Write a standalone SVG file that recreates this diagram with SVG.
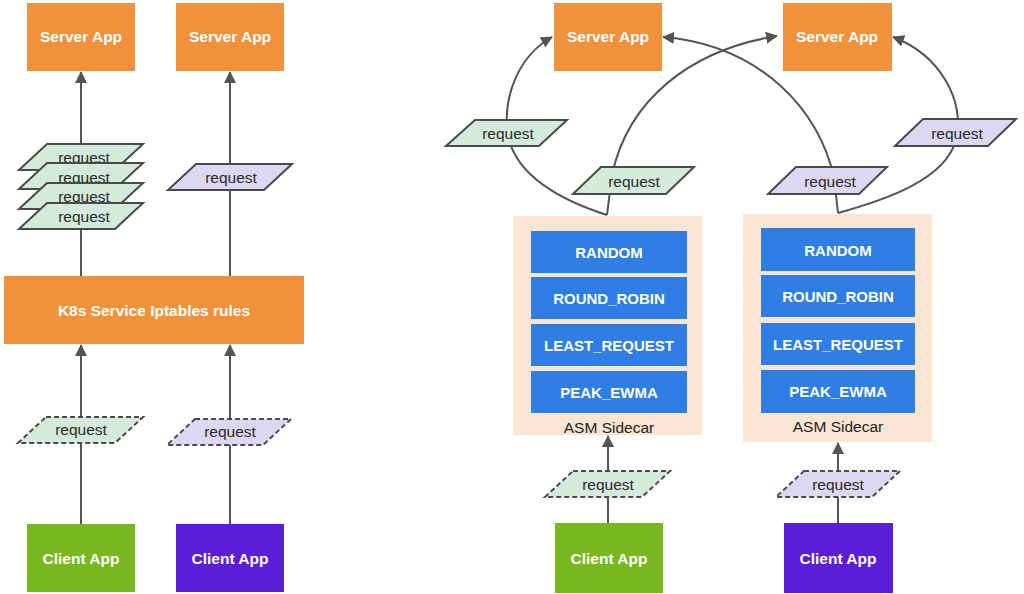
<svg xmlns="http://www.w3.org/2000/svg" width="1024" height="594" viewBox="0 0 1024 594">
<defs>
<style>
.orange{fill:#f0923b}
.cg{fill:#77b81f}
.cp{fill:#5b1ed6}
.blue{fill:#2e7ee4}
.peach{fill:#fbe5d3}
.lbl{font-family:"Liberation Sans",Arial,sans-serif;font-weight:bold;font-size:15.5px;fill:#ffffff;text-anchor:middle;dominant-baseline:central}
.blbl{font-family:"Liberation Sans",Arial,sans-serif;font-weight:bold;font-size:15px;fill:#ffffff;text-anchor:middle;dominant-baseline:central}
.req{font-family:"Liberation Sans",Arial,sans-serif;font-size:15.5px;fill:#2a2a2a;text-anchor:middle;dominant-baseline:central}
.side{font-family:"Liberation Sans",Arial,sans-serif;font-size:15.5px;fill:#222;text-anchor:middle;dominant-baseline:central}
.rg{fill:#d4eadb;stroke:#4a4a4a;stroke-width:2}
.rp{fill:#ddd8f2;stroke:#4a4a4a;stroke-width:2}
.dash{stroke-dasharray:5 3}
.conn{fill:none;stroke:#555;stroke-width:2}
</style>
<marker id="ah" markerUnits="userSpaceOnUse" markerWidth="12" markerHeight="12" refX="11" refY="6" orient="auto">
<path d="M0,0 L12,6 L0,12 Z" fill="#555"/>
</marker>
</defs>
<rect width="1024" height="594" fill="#ffffff"/>

<g id="connectors">
<line class="conn" x1="81" y1="276" x2="81" y2="72" marker-end="url(#ah)"/>
<line class="conn" x1="230" y1="276" x2="230" y2="72" marker-end="url(#ah)"/>
<line class="conn" x1="81" y1="524" x2="81" y2="345" marker-end="url(#ah)"/>
<line class="conn" x1="230" y1="524" x2="230" y2="345" marker-end="url(#ah)"/>
<line class="conn" x1="608" y1="523" x2="608" y2="436" marker-end="url(#ah)"/>
<line class="conn" x1="838" y1="523" x2="838" y2="443" marker-end="url(#ah)"/>
<path class="conn" d="M607,215 C560,200 515,175 508,135 C502,95 520,55 552,37" marker-end="url(#ah)"/>
<path class="conn" d="M607,215 L612,175 C628,100 690,50 777,36" marker-end="url(#ah)"/>
<path class="conn" d="M838,213 L834,178 C820,110 760,45 663,37" marker-end="url(#ah)"/>
<path class="conn" d="M838,213 C885,200 945,180 956,140 C965,100 940,55 893,37" marker-end="url(#ah)"/>
</g>

<g id="server1"><rect class="orange" x="27" y="3" width="108" height="68"/><text class="lbl" x="81" y="36">Server App</text></g>
<g id="server2"><rect class="orange" x="176" y="3" width="108" height="68"/><text class="lbl" x="230" y="36">Server App</text></g>
<g id="server3"><rect class="orange" x="554" y="3" width="108" height="68"/><text class="lbl" x="608" y="36">Server App</text></g>
<g id="server4"><rect class="orange" x="783" y="3" width="109" height="68"/><text class="lbl" x="837" y="36">Server App</text></g>

<g id="k8s"><rect class="orange" x="4" y="276" width="300" height="68"/><text class="lbl" x="154" y="310">K8s Service Iptables rules</text></g>

<g id="client1"><rect class="cg" x="27" y="524" width="108" height="68"/><text class="lbl" x="81" y="558">Client App</text></g>
<g id="client2"><rect class="cp" x="176" y="524" width="108" height="68"/><text class="lbl" x="230" y="558">Client App</text></g>
<g id="client3"><rect class="cg" x="555" y="523" width="108" height="70"/><text class="lbl" x="609" y="558">Client App</text></g>
<g id="client4"><rect class="cp" x="784" y="523" width="109" height="70"/><text class="lbl" x="838" y="558">Client App</text></g>

<g id="stack-requests">
<polygon class="rg" points="47,144 143,144 115,170 19,170"/><text class="req" x="84" y="157">request</text>
<polygon class="rg" points="47,163 143,163 115,189 19,189"/><text class="req" x="84" y="177">request</text>
<polygon class="rg" points="47,183 143,183 115,209 19,209"/><text class="req" x="84" y="196">request</text>
<polygon class="rg" points="47,203 143,203 115,229 19,229"/><text class="req" x="84" y="216">request</text>
</g>
<g id="req-left-purple"><polygon class="rp" points="196,164 292,164 264,190 168,190"/><text class="req" x="231" y="177">request</text></g>
<g id="req-dashed-1"><polygon class="rg dash" points="46,417 143,417 115,443 18,443"/><text class="req" x="81" y="429">request</text></g>
<g id="req-dashed-2"><polygon class="rp dash" points="195,419 291,419 263,445 167,445"/><text class="req" x="230" y="431">request</text></g>
<g id="req-dashed-3"><polygon class="rg dash" points="573,471 670,471 642,497 545,497"/><text class="req" x="608" y="484">request</text></g>
<g id="req-dashed-4"><polygon class="rp dash" points="804,471 900,471 872,497 776,497"/><text class="req" x="838" y="484">request</text></g>

<g id="req-r1"><polygon class="rg" points="475,120 567,120 539,146 446,146"/><text class="req" x="508" y="133">request</text></g>
<g id="req-r2"><polygon class="rg" points="601,167 694,167 666,194 573,194"/><text class="req" x="634" y="181">request</text></g>
<g id="req-r3"><polygon class="rp" points="796,167 887,167 859,194 768,194"/><text class="req" x="830" y="181">request</text></g>
<g id="req-r4"><polygon class="rp" points="923,119 1016,119 988,146 895,146"/><text class="req" x="957" y="133">request</text></g>

<g id="sidecar1">
<rect class="peach" x="513" y="216" width="189" height="219"/>
<rect class="blue" x="531" y="231" width="156" height="42"/><text class="blbl" x="609" y="252">RANDOM</text>
<rect class="blue" x="531" y="277" width="156" height="42"/><text class="blbl" x="609" y="298">ROUND_ROBIN</text>
<rect class="blue" x="531" y="324" width="156" height="42"/><text class="blbl" x="609" y="345">LEAST_REQUEST</text>
<rect class="blue" x="531" y="371" width="156" height="42"/><text class="blbl" x="609" y="392">PEAK_EWMA</text>
<text class="side" x="609" y="427">ASM Sidecar</text>
</g>
<g id="sidecar2">
<rect class="peach" x="743" y="214" width="189" height="228"/>
<rect class="blue" x="761" y="228" width="154" height="43"/><text class="blbl" x="838" y="250">RANDOM</text>
<rect class="blue" x="761" y="275" width="154" height="42"/><text class="blbl" x="838" y="296">ROUND_ROBIN</text>
<rect class="blue" x="761" y="323" width="154" height="42"/><text class="blbl" x="838" y="344">LEAST_REQUEST</text>
<rect class="blue" x="761" y="370" width="154" height="43"/><text class="blbl" x="838" y="391">PEAK_EWMA</text>
<text class="side" x="838" y="426">ASM Sidecar</text>
</g>
</svg>
